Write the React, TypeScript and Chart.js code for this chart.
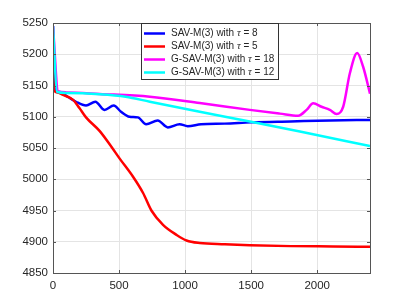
import React, { useEffect, useRef } from "react";
import { Chart, registerables } from "chart.js";

Chart.register(...registerables);

const xTicks = [0, 500, 1000, 1500, 2000];
const yTicks = [4850, 4900, 4950, 5000, 5050, 5100, 5150, 5200, 5250];

const seriesNames = ["SAV-M(3) with ", "SAV-M(3) with ", "G-SAV-M(3) with ", "G-SAV-M(3) with "];
const seriesTaus = ["8", "5", "18", "12"];
const seriesColors = ["#0000ff", "#ff0000", "#ff00ff", "#00ffff"];

const blueX = [0, 20, 48, 111, 174, 250, 321, 389, 460, 515, 579, 642, 705, 793, 869, 958, 1020, 1121, 1300, 1500, 1800, 2100, 2400];
const blueY = [5245, 5141, 5139, 5132, 5124, 5118, 5124, 5111, 5118, 5108, 5100, 5099, 5088, 5094, 5083, 5088, 5085, 5088, 5089, 5091, 5092.5, 5094, 5095];

const redX = [0, 3, 8, 30, 76, 152, 200, 250, 354, 442, 505, 606, 682, 745, 833, 935, 1011, 1111, 1300, 1490, 1800, 2121, 2400];
const redY = [5195, 5160, 5143, 5139, 5135, 5127, 5114, 5099, 5077, 5052, 5033, 5004, 4978, 4950, 4927, 4911, 4902, 4898, 4896, 4894.5, 4893, 4892.5, 4892];

const magentaX = [0, 38, 100, 354, 733, 1111, 1490, 1717, 1856, 1920, 1970, 2033, 2096, 2147, 2197, 2248, 2303, 2348, 2400];
const magentaY = [5245, 5141, 5139, 5136.5, 5132, 5122, 5111, 5105, 5101.5, 5111, 5121.5, 5116, 5111, 5104.5, 5116, 5170, 5202, 5180, 5137];

const cyanX = [0, 30, 100, 354, 550, 733, 1111, 1490, 1869, 2400];
const cyanY = [5245, 5140, 5138, 5136, 5132, 5124, 5108, 5092.5, 5076.5, 5053];

const toPoints = (xs: number[], ys: number[]) => xs.map((x, i) => ({ x, y: ys[i] }));

const TEXT = "#262626";
const FONT = "'Liberation Sans', Arial, sans-serif";

const boxPlugin = {
  id: "boxPlugin",
  afterDatasetsDraw(chart: any) {
    const { ctx, chartArea } = chart;
    const { left, right, top, bottom } = chartArea;
    const xs = chart.scales.x;
    const ys = chart.scales.y;
    ctx.save();
    ctx.strokeStyle = "#555555";
    ctx.lineWidth = 1;
    ctx.strokeRect(Math.round(left) + 0.5, Math.round(top) + 0.5, Math.round(right - left), Math.round(bottom - top));
    const tl = 3;
    ctx.beginPath();
    xTicks.forEach((v) => {
      const px = Math.round(xs.getPixelForValue(v)) + 0.5;
      ctx.moveTo(px, bottom);
      ctx.lineTo(px, bottom - tl);
      ctx.moveTo(px, top);
      ctx.lineTo(px, top + tl);
    });
    yTicks.forEach((v) => {
      const py = Math.round(ys.getPixelForValue(v)) + 0.5;
      ctx.moveTo(left, py);
      ctx.lineTo(left + tl, py);
      ctx.moveTo(right, py);
      ctx.lineTo(right - tl, py);
    });
    ctx.stroke();

    // legend
    const lx = 141, ly = 23, lw = 137, lh = 56;
    ctx.fillStyle = "#ffffff";
    ctx.fillRect(lx, ly, lw, lh);
    ctx.strokeStyle = "#333333";
    ctx.strokeRect(lx + 0.5, ly + 0.5, lw, lh);
    const rows = [33.5, 46.5, 59.5, 72.5];
    rows.forEach((ry, i) => {
      ctx.strokeStyle = seriesColors[i];
      ctx.lineWidth = 2.5;
      ctx.beginPath();
      ctx.moveTo(144, ry);
      ctx.lineTo(165, ry);
      ctx.stroke();
      ctx.fillStyle = TEXT;
      ctx.textBaseline = "middle";
      ctx.textAlign = "left";
      ctx.font = `10px ${FONT}`;
      let tx = 171;
      ctx.fillText(seriesNames[i], tx, ry);
      tx += ctx.measureText(seriesNames[i]).width;
      ctx.font = `italic 10.5px 'Liberation Serif', serif`;
      ctx.fillText("τ", tx, ry);
      tx += ctx.measureText("τ").width;
      ctx.font = `10px ${FONT}`;
      ctx.fillText(" = " + seriesTaus[i], tx, ry);
    });
    ctx.restore();
  },
};

export default function App() {
  const ref = useRef<HTMLCanvasElement>(null);
  useEffect(() => {
    if (!ref.current) return;
    const data = [
      toPoints(blueX, blueY),
      toPoints(redX, redY),
      toPoints(magentaX, magentaY),
      toPoints(cyanX, cyanY),
    ];
    const chart = new Chart(ref.current, {
      type: "line",
      data: {
        datasets: data.map((d, i) => ({
          label: seriesNames[i] + "τ = " + seriesTaus[i],
          data: d,
          borderColor: seriesColors[i],
          backgroundColor: seriesColors[i],
          borderWidth: 2.5,
          pointRadius: 0,
          order: 3 - i,
          cubicInterpolationMode: "monotone" as const,
          fill: false,
        })),
      },
      options: {
        animation: false,
        responsive: false,
        devicePixelRatio: 1,
        layout: { padding: { top: 23, right: 39, left: 0, bottom: 0 } },
        plugins: { legend: { display: false }, tooltip: { enabled: false } },
        scales: {
          x: {
            type: "linear",
            min: 0,
            max: 2400,
            afterBuildTicks: (s: any) => {
              s.ticks = xTicks.map((v) => ({ value: v }));
            },
            afterFit: (s: any) => {
              s.height = 34;
            },
            ticks: { color: TEXT, font: { size: 11.5, family: FONT }, padding: 6, maxRotation: 0, callback: (v: any) => String(v) },
            grid: { color: "#e4e4e4", drawTicks: false },
            border: { display: false },
          },
          y: {
            type: "linear",
            min: 4850,
            max: 5250,
            afterBuildTicks: (s: any) => {
              s.ticks = yTicks.map((v) => ({ value: v }));
            },
            afterFit: (s: any) => {
              s.width = 53;
            },
            ticks: { color: TEXT, font: { size: 11.5, family: FONT }, padding: 5, callback: (v: any) => String(v) },
            grid: { color: "#e4e4e4", drawTicks: false },
            border: { display: false },
          },
        },
      },
      plugins: [boxPlugin],
    });
    return () => chart.destroy();
  }, []);
  return (
    <div style={{ position: "absolute", left: 0, top: 0, width: 409, height: 307, background: "#fff" }}>
      <canvas ref={ref} width={409} height={307} style={{ width: 409, height: 307 }} />
    </div>
  );
}
